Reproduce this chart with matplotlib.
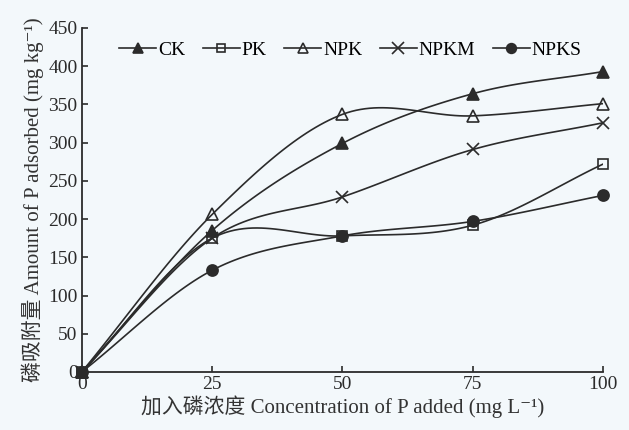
import numpy as np
import matplotlib
matplotlib.use("Agg")
import matplotlib.pyplot as plt
from matplotlib.lines import Line2D

plt.rcParams['font.family'] = ['Liberation Serif', 'Noto Sans CJK SC', 'DejaVu Serif']

# P added (mg/L)
conc = [0, 25, 50, 75, 100]

# P adsorbed (mg/kg)
ck = [0, 185, 299, 364, 393]
pk = [0, 175, 178, 192, 272]
npk = [0, 206, 337, 335, 351]
npkm = [0, 175, 229, 291, 326]
npks = [0, 133, 178, 197, 231]

series_names = ['CK', 'PK', 'NPK', 'NPKM', 'NPKS']


def smooth(x, y, n=30):
    # catmull-rom style smoothing, like the smoothed line of a spreadsheet
    x = np.asarray(x, float)
    y = np.asarray(y, float)
    px = np.concatenate([[2 * x[0] - x[1]], x, [2 * x[-1] - x[-2]]])
    py = np.concatenate([[2 * y[0] - y[1]], y, [2 * y[-1] - y[-2]]])
    t = np.linspace(0, 1, n)
    xs, ys = [], []
    for i in range(1, len(px) - 2):
        for p, out in ((px, xs), (py, ys)):
            p0, p1, p2, p3 = p[i - 1], p[i], p[i + 1], p[i + 2]
            c1 = p1 + (p2 - p0) / 6
            c2 = p2 - (p3 - p1) / 6
            seg = ((1 - t) ** 3 * p1 + 3 * (1 - t) ** 2 * t * c1
                   + 3 * (1 - t) * t ** 2 * c2 + t ** 3 * p2)
            out.extend(seg if i == 1 else seg[1:])
    return np.array(xs), np.array(ys)


fig = plt.figure(figsize=(6.29, 4.30), dpi=100)
fig.patch.set_facecolor('#f3f8fb')
ax = fig.add_axes([0.130, 0.135, 0.829, 0.800])
ax.set_facecolor('#f3f8fb')

col = '#2b2b2b'
styles = [
    (ck, '^', col, 8),
    (pk, 's', 'none', 7),
    (npk, '^', 'none', 8),
    (npkm, 'x', col, 9),
    (npks, 'o', col, 8),
]

handles = []
for (vals, mk, fc, ms), name in zip(styles, series_names):
    sx, sy = smooth(conc, vals)
    ax.plot(sx, sy, color=col, lw=1.2, zorder=2)
    ax.plot(conc, vals, ls='none', marker=mk, ms=ms, mfc=fc, mec=col,
            mew=1.2, zorder=3, clip_on=False)
    handles.append(Line2D([], [], color=col, lw=1.2, marker=mk,
                          ms=ms - 1, mfc=fc, mec=col, mew=1.2, label=name))

ax.set_xlim(0, 100)
ax.set_ylim(0, 450)
ax.set_xticks(conc)
ax.set_yticks(range(0, 451, 50))
ax.tick_params(direction='in', length=4, width=1.2, colors=col,
               labelsize=14, pad=3)
for s in ['top', 'right']:
    ax.spines[s].set_visible(False)
for s in ['left', 'bottom']:
    ax.spines[s].set_linewidth(1.3)
    ax.spines[s].set_color(col)

ax.set_xlabel('加入磷浓度 Concentration of P added (mg L⁻¹)',
              fontsize=15, color='#333333', labelpad=2)
ax.set_ylabel('磷吸附量 Amount of P adsorbed (mg kg⁻¹)',
              fontsize=15, color='#333333', labelpad=3)

ax.legend(handles=handles, loc='upper center', bbox_to_anchor=(0.515, 1.0),
          ncol=5, frameon=False, fontsize=14, handlelength=1.9,
          handletextpad=0.1, columnspacing=0.9, borderaxespad=0.3)

fig.savefig('out.png', dpi=100, facecolor=fig.get_facecolor())
